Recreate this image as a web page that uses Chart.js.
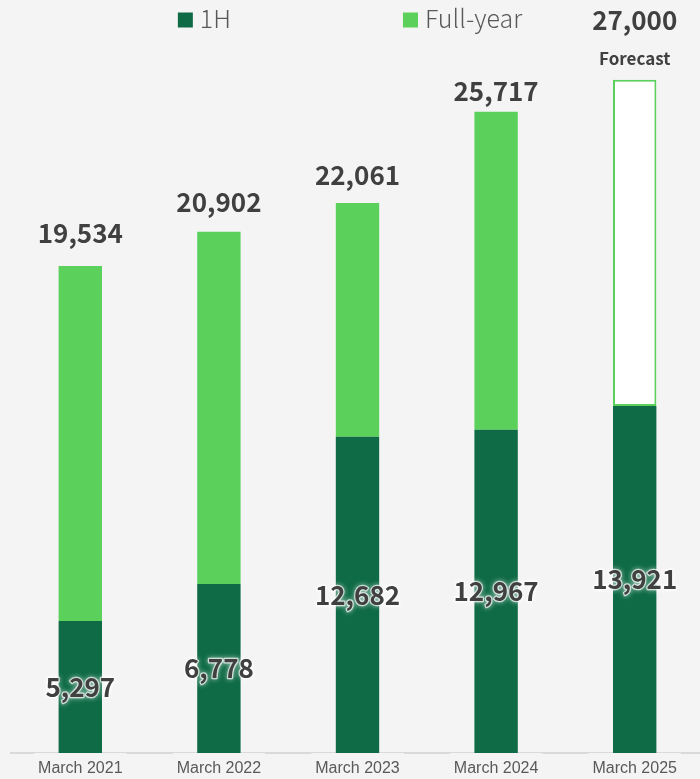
<!DOCTYPE html>
<html>
<head>
<meta charset="utf-8">
<script src="https://cdn.jsdelivr.net/npm/chart.js@4.4.1/dist/chart.umd.min.js"></script>
<style>
  html, body { margin: 0; padding: 0; background: #f4f4f4; overflow: hidden; }
  #wrap { position: relative; width: 704px; height: 779px; }
</style>
</head>
<body>
<div id="wrap"><canvas id="grafica"></canvas></div>
<script>
// datos del grafico
const categories = ['March 2021', 'March 2022', 'March 2023', 'March 2024', 'March 2025'];
const firstHalf = [5297, 6778, 12682, 12967, 13921];
const fullYear = [19534, 20902, 22061, 25717, 27000];
const notes = ['', '', '', '', 'Forecast'];

const DARK = '#0f6b46';
const LIGHT = '#5bd05b';
const TEXT = '#404040';
const NUM_FONT = '"Noto Sans CJK JP", "Liberation Sans", sans-serif';

// etiquetas de valores y leyenda
const etiquetas = {
    id: 'etiquetas',
    afterDatasetsDraw(chart) {
        const ctx = chart.ctx;
        const bars1 = chart.getDatasetMeta(0).data;
        const bars2 = chart.getDatasetMeta(1).data;
        const anchor = chart.scales.yLabel;
        ctx.save();
        ctx.textAlign = 'center';
        ctx.textBaseline = 'middle';
        ctx.font = 'bold 26px ' + NUM_FONT;

        // 1H dentro de la barra oscura, con halo blanco
        bars1.forEach((bar, i) => {
            const y = (bar.y + bar.base) / 2;
            const txt = firstHalf[i].toLocaleString('en-US');
            ctx.save();
            ctx.shadowColor = 'rgba(255,255,255,0.95)';
            ctx.shadowBlur = 5;
            ctx.lineJoin = 'round';
            ctx.strokeStyle = 'rgba(255,255,255,0.7)';
            ctx.lineWidth = 2.5;
            ctx.strokeText(txt, bar.x, y);
            ctx.restore();
            ctx.fillStyle = TEXT;
            ctx.fillText(txt, bar.x, y);
        });

        // totales arriba
        bars2.forEach((bar, i) => {
            const y = anchor.getPixelForValue(fullYear[i]);
            const txt = fullYear[i].toLocaleString('en-US');
            ctx.fillStyle = TEXT;
            if (notes[i]) {
                ctx.font = 'bold 17px ' + NUM_FONT;
                ctx.fillText(notes[i], bar.x, y - 3);
                ctx.font = 'bold 26px ' + NUM_FONT;
                ctx.fillText(txt, bar.x, y - 41);
            } else {
                ctx.fillText(txt, bar.x, y);
            }
        });

        // leyenda
        const items = chart.data.datasets.map(ds => ({ label: ds.label, color: ds.legendColor }));
        ctx.font = '300 25px "Noto Sans CJK JP", sans-serif';
        ctx.textAlign = 'left';
        const box = 15, gapText = 7, gapItem = 172;
        const widths = items.map(it => box + gapText + ctx.measureText(it.label).width);
        const total = widths.reduce((a, b) => a + b, 0) + gapItem * (items.length - 1);
        let x = 350 - total / 2;
        const cy = 20;
        items.forEach((it, i) => {
            ctx.fillStyle = it.color;
            ctx.fillRect(x, cy - box / 2, box, box);
            ctx.fillStyle = '#595959';
            ctx.fillText(it.label, x + box + gapText, cy - 2);
            x += widths[i] + gapItem;
        });
        ctx.restore();
    }
};

const ctx = document.getElementById('grafica').getContext('2d');
new Chart(ctx, {
    type: 'bar',
    data: {
        labels: categories,
        datasets: [{
            label: '1H',
            data: firstHalf,
            backgroundColor: DARK,
            legendColor: DARK,
            borderWidth: 0
        }, {
            label: 'Full-year',
            data: fullYear.map((v, i) => v - firstHalf[i]),
            backgroundColor: fullYear.map((v, i) => notes[i] ? '#ffffff' : LIGHT),
            borderColor: LIGHT,
            borderWidth: fullYear.map((v, i) => notes[i] ? 2 : 0),
            borderSkipped: false,
            legendColor: LIGHT
        }]
    },
    options: {
        responsive: true,
        maintainAspectRatio: false,
        animation: false,
        layout: { padding: { top: 5, left: 11, right: 0, bottom: 0 } },
        datasets: {
            bar: { categoryPercentage: 1, barPercentage: 0.313 }
        },
        scales: {
            x: {
                stacked: true,
                grid: { display: false, drawTicks: false },
                border: { display: true, color: '#d9d9d9', width: 2 },
                ticks: {
                    color: '#595959',
                    font: { family: '"Liberation Sans", Arial, sans-serif', size: 16 },
                    padding: 6,
                    maxRotation: 0,
                    showLabelBackdrop: true,
                    backdropColor: '#f4f4f4',
                    backdropPadding: { top: 8, bottom: 2, left: 4, right: 4 }
                },
                afterFit: (scale) => { scale.height = 26; }
            },
            y: {
                stacked: true,
                display: false,
                min: 0,
                max: 30000
            },
            yLabel: {
                display: false,
                min: -3090,
                max: 29461
            }
        },
        plugins: {
            legend: { display: false },
            title: { display: false },
            tooltip: { enabled: false }
        }
    },
    plugins: [etiquetas]
});
</script>
</body>
</html>
